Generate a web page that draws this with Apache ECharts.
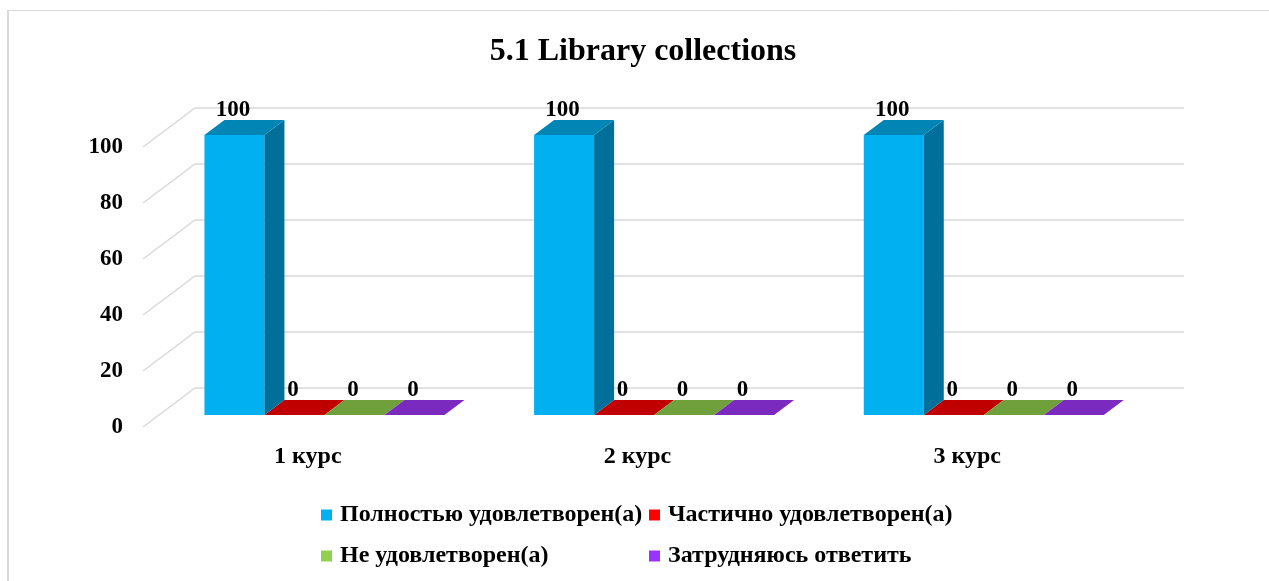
<!DOCTYPE html>
<html><head><meta charset="utf-8">
<style>html,body{margin:0;padding:0;background:#fff}#c{width:1269px;height:581px}</style>
<script src="https://cdn.jsdelivr.net/npm/echarts@6/dist/echarts.min.js"></script>
</head><body><div id="c"></div>
<script>
const categories = ['1 курс', '2 курс', '3 курс'];
const seriesNames = ['Полностью удовлетворен(а)', 'Частично удовлетворен(а)', 'Не удовлетворен(а)', 'Затрудняюсь ответить'];
const valuesFull = [100, 100, 100];
const valuesPartial = [0, 0, 0];
const valuesNot = [0, 0, 0];
const valuesUnsure = [0, 0, 0];
const yTicks = [0, 20, 40, 60, 80, 100];
const allValues = [valuesFull, valuesPartial, valuesNot, valuesUnsure];

const FONT = '"Liberation Serif", "Times New Roman", serif';
const frontColors = ['#00B0F0', '#C00000', '#70A03C', '#7B2AC0'];
const topColors = ['#0085B5', '#C00000', '#70A03C', '#7B2AC0'];
const sideColors = ['#006F99', '#900000', '#547830', '#5C2090'];
const legendColors = ['#00B0F0', '#FF0000', '#92D050', '#9933FF'];

const wallDx = 52, wallDy = 39;   // depth of the pseudo-3D floor
const barDx = 20, barDy = 15;     // depth of each bar
const inDx = 16.6, inDy = 12;     // bar front plane inset from axis plane
const barRatio = 0.182;

function barSeries(i) {
  return {
    type: 'custom', name: seriesNames[i], z: 5 + (i === 0 ? 1 : 0), coordinateSystem: 'cartesian2d',
    data: categories.map((c, k) => [k, allValues[i][k]]),
    color: frontColors[i],
    encode: { x: 0, y: 1 },
    renderItem(params, api) {
      const cat = api.value(0), v = api.value(1);
      const band = api.size([1, 0])[0];
      const w = band * barRatio;
      const top = api.coord([cat, v]);
      const base = api.coord([cat, 0]);
      const xl = top[0] + inDx + (i - 2) * w;
      const xr = xl + w;
      const yt = top[1] - inDy, yb = base[1] - inDy;
      const ch = [];
      if (yb - yt > 0.5) {
        ch.push({ type: 'rect', shape: { x: xl, y: yt, width: w, height: yb - yt }, style: { fill: frontColors[i] } });
        ch.push({ type: 'polygon', shape: { points: [[xr, yt], [xr + barDx, yt - barDy], [xr + barDx, yb - barDy], [xr, yb]] }, style: { fill: sideColors[i] } });
      }
      ch.push({ type: 'polygon', shape: { points: [[xl, yt], [xr, yt], [xr + barDx, yt - barDy], [xl + barDx, yt - barDy]] }, style: { fill: topColors[i] } });
      ch.push({ type: 'text', z2: 10, style: { x: xl + w / 2 - 1.5, y: yt - 24.5, text: String(v), fill: '#000', font: 'bold 23px ' + FONT, align: 'center', verticalAlign: 'middle' } });
      return { type: 'group', children: ch };
    }
  };
}

const gridSeries = {
  type: 'custom', silent: true, z: 1, coordinateSystem: 'cartesian2d',
  data: yTicks.map(t => [0, t]),
  encode: { y: 1 },
  renderItem(params, api) {
    const p = api.coord([0, api.value(1)]);
    const cs = params.coordSys;
    return {
      type: 'polyline',
      shape: { points: [[cs.x, p[1]], [cs.x + wallDx, p[1] - wallDy], [cs.x + cs.width + wallDx, p[1] - wallDy]] },
      style: { stroke: '#D9D9D9', lineWidth: 1.5, fill: null }
    };
  }
};

function legend(left, names) {
  return {
    left, top: 503, padding: 0, orient: 'vertical', itemGap: 17, itemWidth: 11, itemHeight: 11, icon: 'rect',
    selectedMode: false,
    textStyle: { fontFamily: FONT, fontWeight: 'bold', fontSize: 24, color: '#000', padding: [0, 0, 0, 3] },
    data: names.map(n => ({ name: n, icon: 'rect', itemStyle: { color: legendColors[seriesNames.indexOf(n)] } }))
  };
}

const chart = echarts.init(document.getElementById('c'));
chart.setOption({
  animation: false,
  backgroundColor: '#fff',
  title: { text: '5.1 Library collections', left: 638, top: 31, textAlign: 'center',
    textStyle: { fontFamily: FONT, fontWeight: 'bold', fontSize: 32, color: '#000' } },
  grid: { left: 143, right: 137, top: 147, bottom: 154 },
  xAxis: { type: 'category', data: categories, axisLine: { show: false }, axisTick: { show: false }, splitLine: { show: false },
    axisLabel: { margin: 18, fontFamily: FONT, fontWeight: 'bold', fontSize: 24, color: '#000' } },
  yAxis: { type: 'value', min: 0, max: 100, interval: 20, axisLine: { show: false }, axisTick: { show: false }, splitLine: { show: false },
    axisLabel: { margin: 20, fontFamily: FONT, fontWeight: 'bold', fontSize: 23, color: '#000' } },
  legend: [legend(321, [seriesNames[0], seriesNames[2]]), legend(649, [seriesNames[1], seriesNames[3]])],
  graphic: [
    { type: 'line', silent: true, shape: { x1: 8, y1: 10, x2: 8, y2: 581 }, style: { stroke: '#D9D9D9', lineWidth: 2 } },
    { type: 'line', silent: true, shape: { x1: 7, y1: 10.5, x2: 1269, y2: 10.5 }, style: { stroke: '#D9D9D9', lineWidth: 1 } }
  ],
  series: [gridSeries, barSeries(0), barSeries(1), barSeries(2), barSeries(3)]
});
</script></body></html>
